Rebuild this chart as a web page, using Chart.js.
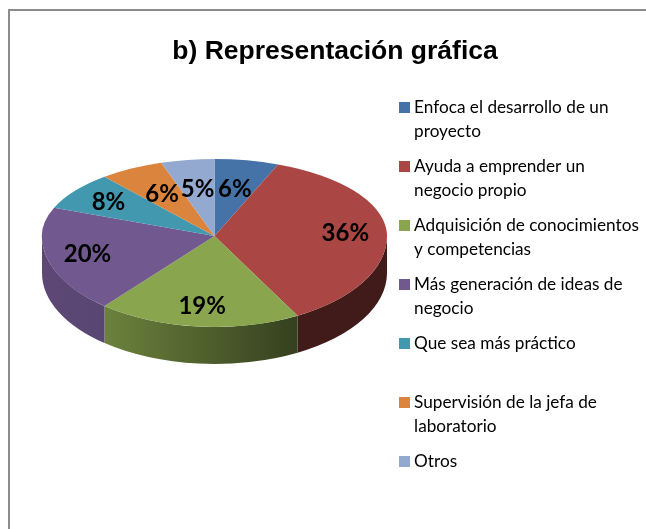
<!DOCTYPE html>
<html>
<head>
<meta charset="utf-8">
<title>b) Representación gráfica</title>
<script src="https://cdn.jsdelivr.net/npm/chart.js@4/dist/chart.umd.min.js"></script>
<style>
  html, body { margin: 0; padding: 0; background: #fff; }
  canvas { display: block; }
</style>
</head>
<body>
<canvas id="grafica" width="646" height="529"></canvas>
<script>
// data
const categories = [
    ['Enfoca el desarrollo de un', 'proyecto'],
    ['Ayuda a emprender un', 'negocio propio'],
    ['Adquisición de conocimientos', 'y competencias'],
    ['Más generación de ideas de', 'negocio'],
    ['Que sea más práctico', ''],
    ['Supervisión de la jefa de', 'laboratorio'],
    ['Otros']
];
const percentages = [6, 36, 19, 20, 8, 6, 5];
const colors = ['#4572A7', '#AA4643', '#89A54E', '#71588F', '#4198AF', '#DB843D', '#93A9CF'];

// 3D look: the pie is squashed, the front half a bit more open than the back half
const pie3d = { cx: 214.5, cy: 236, rx: 172.5, ryTop: 77, ryBottom: 91, depth: 37 };
const wallShade = [[0, 0.82], [0.16, 0.8], [0.75, 0.38], [1, 0.38]];

function darken(hex, k) {
    const n = parseInt(hex.slice(1), 16);
    return 'rgb(' + Math.round((n >> 16) * k) + ',' + Math.round(((n >> 8) & 255) * k) + ',' + Math.round((n & 255) * k) + ')';
}

function drawWalls(ctx, arcs) {
    const { cx, cy, rx, ryBottom, depth } = pie3d;
    arcs.forEach((arc, i) => {
        const start = Math.max(arc.startAngle, 0);
        const end = Math.min(arc.endAngle, Math.PI);
        if (start >= end) return;
        const grad = ctx.createLinearGradient(cx - rx, 0, cx + rx, 0);
        wallShade.forEach(s => grad.addColorStop(s[0], darken(colors[i], s[1])));
        ctx.beginPath();
        ctx.ellipse(cx, cy, rx, ryBottom, 0, start, end);
        ctx.ellipse(cx, cy + depth, rx, ryBottom, 0, end, start, true);
        ctx.closePath();
        ctx.fillStyle = grad;
        ctx.fill();
    });
}

function drawFace(ctx, arcs, clipY, clipH, ry) {
    const { cx, cy, rx } = pie3d;
    ctx.save();
    ctx.beginPath();
    ctx.rect(0, clipY, 646, clipH);
    ctx.clip();
    ctx.translate(cx, cy);
    ctx.scale(rx / arcs[0].outerRadius, ry / arcs[0].outerRadius);
    ctx.translate(-arcs[0].x, -arcs[0].y);
    arcs.forEach(arc => arc.draw(ctx));
    ctx.restore();
}

const pie3dPlugin = {
    id: 'pie3d',
    beforeDraw(chart) {
        // grey frame, only the left and top sides are in the picture
        const ctx = chart.ctx;
        ctx.save();
        ctx.strokeStyle = '#8c8c8c';
        ctx.lineWidth = 2;
        ctx.beginPath();
        ctx.moveTo(9, 529);
        ctx.lineTo(9, 10);
        ctx.lineTo(646, 10);
        ctx.stroke();
        ctx.restore();
    },
    afterLayout(chart) {
        chart.legend.left = 391.5;
        chart.legend.top = 87;
    },
    beforeDatasetDraw() {
        return false;
    },
    afterDatasetsDraw(chart) {
        const ctx = chart.ctx;
        const arcs = chart.getDatasetMeta(0).data;
        const { cx, cy, rx, ryTop, ryBottom } = pie3d;
        drawWalls(ctx, arcs);
        drawFace(ctx, arcs, 0, cy, ryTop);
        drawFace(ctx, arcs, cy, 529 - cy, ryBottom);

        ctx.save();
        ctx.font = 'bold 24px Lato';
        ctx.fillStyle = '#000';
        ctx.textAlign = 'center';
        ctx.textBaseline = 'middle';
        arcs.forEach((arc, i) => {
            const mid = (arc.startAngle + arc.endAngle) / 2;
            const f = percentages[i] > 6 ? 0.76 : 0.63;
            const dy = Math.sin(mid);
            const x = cx + Math.cos(mid) * rx * f;
            const y = cy + dy * (dy < 0 ? ryTop : ryBottom) * f + 1;
            ctx.fillText(percentages[i] + '%', x, y);
        });
        ctx.restore();
    }
};

new Chart(document.getElementById('grafica'), {
    type: 'pie',
    data: {
        labels: categories,
        datasets: [{
            data: percentages,
            backgroundColor: colors,
            borderWidth: 0
        }]
    },
    options: {
        responsive: false,
        animation: false,
        layout: { padding: { left: 24 } },
        plugins: {
            tooltip: { enabled: false },
            title: {
                display: true,
                text: 'b) Representación gráfica',
                color: '#000',
                font: { family: '"Liberation Sans"', size: 26.5, weight: 'bold' },
                padding: { top: 36, bottom: 10 }
            },
            legend: {
                position: 'right',
                align: 'start',
                labels: {
                    color: '#1a1a1a',
                    padding: 12,
                    boxWidth: 2,
                    boxHeight: 2,
                    font: { family: 'Lato', size: 17.2, lineHeight: 1.366 },
                    generateLabels(chart) {
                        return categories.map((text, i) => ({
                            text: text,
                            fillStyle: colors[i],
                            strokeStyle: colors[i],
                            lineWidth: 9,
                            index: i
                        }));
                    }
                }
            }
        }
    },
    plugins: [pie3dPlugin]
});
</script>
</body>
</html>
